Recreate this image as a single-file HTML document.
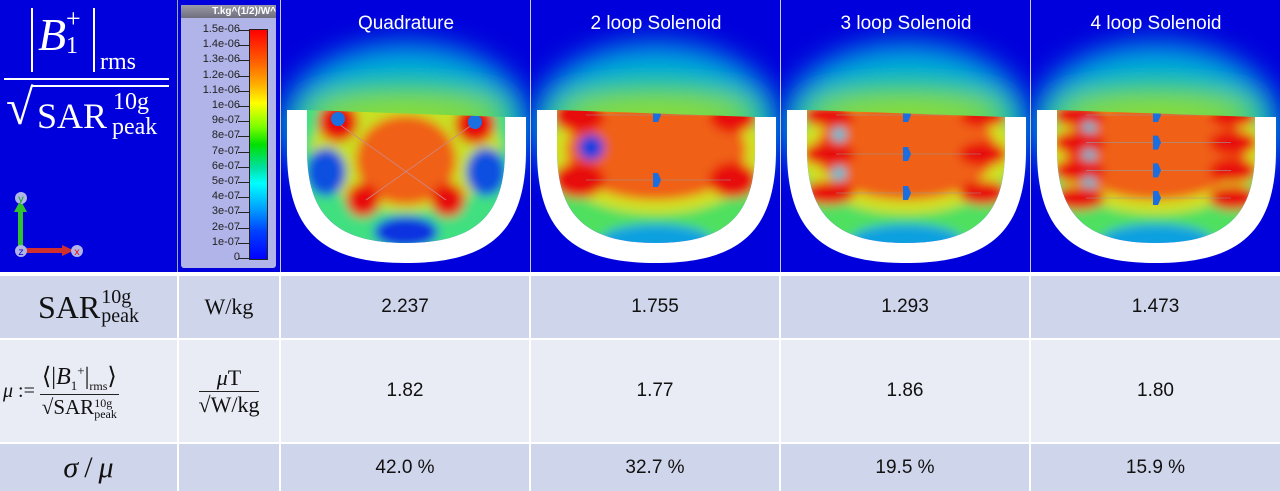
<!DOCTYPE html>
<html><head><meta charset="utf-8">
<style>
body{margin:0;width:1280px;height:491px;background:#fff;position:relative;overflow:hidden;font-family:"Liberation Sans",sans-serif}
.abs{position:absolute}
.blue{background:#0000dc}
.cell{position:absolute;display:flex;align-items:center;justify-content:center;color:#111;font-size:19px}
.r1{top:276px;height:62px;background:#cfd5ea}
.r2{top:340px;height:102px;background:#e9ebf5}
.r3{top:444px;height:47px;background:#cfd5ea}
.m{font-family:"Liberation Serif",serif}
.tick{position:absolute;right:36px;font-size:11px;color:#222;font-family:"Liberation Sans",sans-serif;text-align:right}
.tk{position:absolute;left:57px;width:12px;height:1px;background:#222}
</style></head><body>

<!-- top row -->
<div class="abs blue" style="left:0;top:0;width:177px;height:272px">
  <div class="abs" style="left:31px;top:8px;width:2px;height:64px;background:#fff"></div>
  <div class="abs m" style="left:38px;top:12px;color:#fff;font-size:46px;line-height:1"><i>B</i></div>
  <div class="abs m" style="left:66px;top:6px;color:#fff;font-size:26px;line-height:1">+</div>
  <div class="abs m" style="left:66px;top:34px;color:#fff;font-size:24px;line-height:1">1</div>
  <div class="abs" style="left:93px;top:8px;width:2px;height:64px;background:#fff"></div>
  <div class="abs m" style="left:100px;top:50px;color:#fff;font-size:24px;line-height:1">rms</div>
  <div class="abs" style="left:4px;top:78px;width:165px;height:2px;background:#fff"></div>
  <div class="abs m" style="left:6px;top:82px;color:#fff;font-size:50px;line-height:1">√</div>
  <div class="abs" style="left:32px;top:85px;width:137px;height:1.5px;background:#fff"></div>
  <div class="abs m" style="left:37px;top:98px;color:#fff;font-size:36px;line-height:1">SAR</div>
  <div class="abs m" style="left:113px;top:90px;color:#fff;font-size:24px;line-height:1">10g</div>
  <div class="abs m" style="left:112px;top:115px;color:#fff;font-size:24px;line-height:1">peak</div>
  <svg class="abs" style="left:8px;top:188px" width="80" height="80">
    <rect x="10" y="22" width="5" height="40" fill="#30c030"/><polygon points="6,24 19,24 12.5,12" fill="#30c030"/>
    <rect x="14" y="60" width="42" height="5" fill="#d03030"/><polygon points="54,57 54,68 66,62.5" fill="#d03030"/>
    <circle cx="13" cy="10" r="6" fill="#b0b4e8"/><text x="13" y="14" font-size="10" fill="#0a0" text-anchor="middle" font-family="Liberation Mono">y</text>
    <circle cx="13" cy="63" r="6" fill="#b0b4e8"/><text x="13" y="67" font-size="10" fill="#00c" text-anchor="middle" font-family="Liberation Mono">z</text>
    <circle cx="69" cy="63" r="6" fill="#b0b4e8"/><text x="69" y="67" font-size="10" fill="#e00" text-anchor="middle" font-family="Liberation Mono">x</text>
  </svg>
</div>
<div class="abs blue" style="left:178px;top:0;width:102px;height:272px"></div>
<div class="abs" style="left:181px;top:5px;width:95px;height:263px;background:#b0b4e8;border-radius:3px">
  <div class="abs" style="left:0;top:0;width:95px;height:13px;background:linear-gradient(#9a9aa8,#6e6e7c);color:#fff;font-size:10px;font-weight:bold;text-align:right;line-height:13px;white-space:nowrap;overflow:hidden">T.kg^(1/2)/W^</div>
  <div class="abs" style="left:68px;top:24px;width:17px;height:229px;border:1px solid #222;background:linear-gradient(#ff0000,#ff6000 14%,#ffb000 24%,#ffff00 32%,#80ff00 42%,#00e000 50%,#00e0a0 60%,#00ffff 67%,#00a0ff 78%,#0040ff 88%,#0000ff)"></div>
  <div id="ticks"></div>
</div>

<div id="panels"></div>

<!-- separators -->
<div class="abs" style="left:177px;top:0;width:1px;height:272px;background:#9ab"></div>
<div class="abs" style="left:280px;top:0;width:1px;height:272px;background:#ccd"></div>
<div class="abs" style="left:530px;top:0;width:1px;height:272px;background:#ccd"></div>
<div class="abs" style="left:780px;top:0;width:1px;height:272px;background:#ccd"></div>
<div class="abs" style="left:1030px;top:0;width:1px;height:272px;background:#ccd"></div>

<!-- table -->
<div class="cell r1 m" style="left:0;width:177px;font-size:32px"><span>SAR</span><span style="display:inline-flex;flex-direction:column;font-size:20px;line-height:0.95;margin-left:1px"><span>10g</span><span>peak</span></span></div>
<div class="cell r1 m" style="left:179px;width:100px;font-size:22px">W/kg</div>
<div class="cell r1" style="left:281px;width:248px">2.237</div>
<div class="cell r1" style="left:531px;width:248px">1.755</div>
<div class="cell r1" style="left:781px;width:248px">1.293</div>
<div class="cell r1" style="left:1031px;width:249px">1.473</div>

<div class="cell r2 m" style="left:0;width:177px;font-size:20px;justify-content:flex-start">
  <i style="margin-left:3px">μ</i>&nbsp;:=&nbsp;
  <span style="display:inline-flex;flex-direction:column;align-items:center">
    <span style="font-size:24px;border-bottom:1.5px solid #222;padding:0 2px;white-space:nowrap">⟨|<i>B</i><sub style="font-size:13px">1</sub><sup style="font-size:13px">+</sup>|<sub style="font-size:12px">rms</sub>⟩</span>
    <span style="font-size:21px;white-space:nowrap">√<span style="border-top:1px solid #222">SAR<span style="display:inline-flex;flex-direction:column;font-size:12px;line-height:0.9;vertical-align:middle"><span>10g</span><span>peak</span></span></span></span>
  </span>
</div>
<div class="cell r2 m" style="left:179px;width:100px;font-size:22px"><span style="display:inline-flex;flex-direction:column;align-items:center"><span style="border-bottom:1.5px solid #222;padding:0 18px"><i>μ</i>T</span><span>√<span style="border-top:1px solid #222">W/kg</span></span></span></div>
<div class="cell r2" style="left:281px;width:248px">1.82</div>
<div class="cell r2" style="left:531px;width:248px">1.77</div>
<div class="cell r2" style="left:781px;width:248px">1.86</div>
<div class="cell r2" style="left:1031px;width:249px">1.80</div>

<div class="cell r3 m" style="left:0;width:177px;font-size:30px"><i>σ</i>&thinsp;/&thinsp;<i>μ</i></div>
<div class="cell r3" style="left:179px;width:100px"></div>
<div class="cell r3" style="left:281px;width:248px">42.0 %</div>
<div class="cell r3" style="left:531px;width:248px">32.7 %</div>
<div class="cell r3" style="left:781px;width:248px">19.5 %</div>
<div class="cell r3" style="left:1031px;width:249px">15.9 %</div>

<script>
const tickLabels=["1.5e-06","1.4e-06","1.3e-06","1.2e-06","1.1e-06","1e-06","9e-07","8e-07","7e-07","6e-07","5e-07","4e-07","3e-07","2e-07","1e-07","0"];
const titles=["Quadrature","2 loop Solenoid","3 loop Solenoid","4 loop Solenoid"];
const loops=[0,2,3,4];
const tk=document.getElementById('ticks');
tickLabels.forEach((t,i)=>{
  const y=25+i*228/(tickLabels.length-1);
  const d=document.createElement('div');d.className='tick';d.style.top=(y-7)+'px';d.textContent=t;
  
  
  tk.appendChild(d);
  const l=document.createElement('div');l.className='tk';l.style.top=y+'px';tk.appendChild(l);
});
const lefts=[281,531,781,1031];
const inner="M26,110 L224,117 L224,150 C224,215 195,243 125,243 C55,243 26,215 26,150 Z";
const shell="M6,110 L6,150 C6,230 40,263 125,263 C210,263 245,230 245,150 L245,117 L224,117 L224,150 C224,215 195,243 125,243 C55,243 26,215 26,150 L26,110 Z";
let html='';
titles.forEach((t,k)=>{
  let blobs='';
  const n=loops[k];
  if(n===0){
    blobs+=`<rect x="0" y="90" width="249" height="170" fill="#40e080"/>
    <ellipse cx="125" cy="150" rx="95" ry="62" fill="#c8e020"/>
    <ellipse cx="45" cy="172" rx="20" ry="24" fill="#1050e0"/><ellipse cx="205" cy="172" rx="20" ry="24" fill="#1050e0"/>
    <ellipse cx="125" cy="232" rx="32" ry="16" fill="#1030e0"/>
    <ellipse cx="125" cy="160" rx="50" ry="45" fill="#f06018"/>
    <circle cx="57" cy="122" r="20" fill="#e80c0c"/><circle cx="194" cy="124" r="20" fill="#e80c0c"/>
    <circle cx="82" cy="200" r="17" fill="#e80c0c"/><circle cx="167" cy="200" r="17" fill="#e80c0c"/>`;
  } else {
    blobs+=`<rect x="0" y="90" width="249" height="170" fill="#50e060"/>
    <ellipse cx="125" cy="240" rx="55" ry="16" fill="#10a0e0"/>
    <ellipse cx="125" cy="152" rx="108" ry="62" fill="#d0e020"/>
    <ellipse cx="125" cy="150" rx="90" ry="50" fill="#f06018"/>`;
    const y0=115,y1=n===2?180:(n===3?193:198);
    for(let i=0;i<n;i++){
      const y=y0+(y1-y0)*i/(n-1);
      blobs+=`<ellipse cx="48" cy="${y}" rx="26" ry="${n===2?18:12}" fill="#e80c0c"/><ellipse cx="202" cy="${y}" rx="24" ry="${n===2?18:12}" fill="#e80c0c"/>`;
      if(i<n-1){const yh=(y+(y0+(y1-y0)*(i+1)/(n-1)))/2;
        blobs+=`<circle cx="${n===2?60:58}" cy="${yh}" r="${n===2?13:7}" fill="${n===2?'#1040e0':'#10c8e0'}"/>`;}
    }
  }
  let marks='';
  if(n>0){const y0=115,y1=n===2?180:(n===3?193:198);
    for(let i=0;i<n;i++){const y=y0+(y1-y0)*i/(n-1);
      marks+=`<line x1="55" y1="${y}" x2="200" y2="${y}" stroke="#999" stroke-width="0.6"/><path d="M122,${y-7} L127,${y-7} L130,${y} L127,${y+7} L122,${y+7}Z" fill="#1a6ee0"/>`;}
  } else {
    marks=`<line x1="55" y1="122" x2="165" y2="200" stroke="#c88" stroke-width="0.8"/><line x1="195" y1="122" x2="85" y2="200" stroke="#c88" stroke-width="0.8"/>
    <circle cx="57" cy="119" r="7" fill="#1a70e0"/><circle cx="194" cy="122" r="7" fill="#1a70e0"/>`;
  }
  html+=`<svg class="abs" style="left:${lefts[k]}px;top:0" width="249" height="272">
  <defs><filter id="b${k}" x="-30%" y="-30%" width="160%" height="160%"><feGaussianBlur stdDeviation="14"/></filter>
  <filter id="c${k}"><feGaussianBlur stdDeviation="5"/></filter>
  <clipPath id="cp${k}"><path d="${inner}"/></clipPath></defs>
  <rect width="249" height="272" fill="#0000dc"/>
  <g filter="url(#b${k})"><ellipse cx="125" cy="125" rx="125" ry="82" fill="#00a8e0"/><ellipse cx="125" cy="118" rx="110" ry="38" fill="#10d060"/><ellipse cx="125" cy="112" rx="95" ry="12" fill="#a0e020"/></g>
  <g clip-path="url(#cp${k})"><g filter="url(#c${k})">${blobs}</g>${marks}</g>
  <path d="${shell}" fill="#fff"/>
  <text x="125" y="29" text-anchor="middle" fill="#fff" font-size="19" font-family="Liberation Sans">${t}</text>
  </svg>`;
});
document.getElementById('panels').innerHTML=html;
</script>
</body></html>
